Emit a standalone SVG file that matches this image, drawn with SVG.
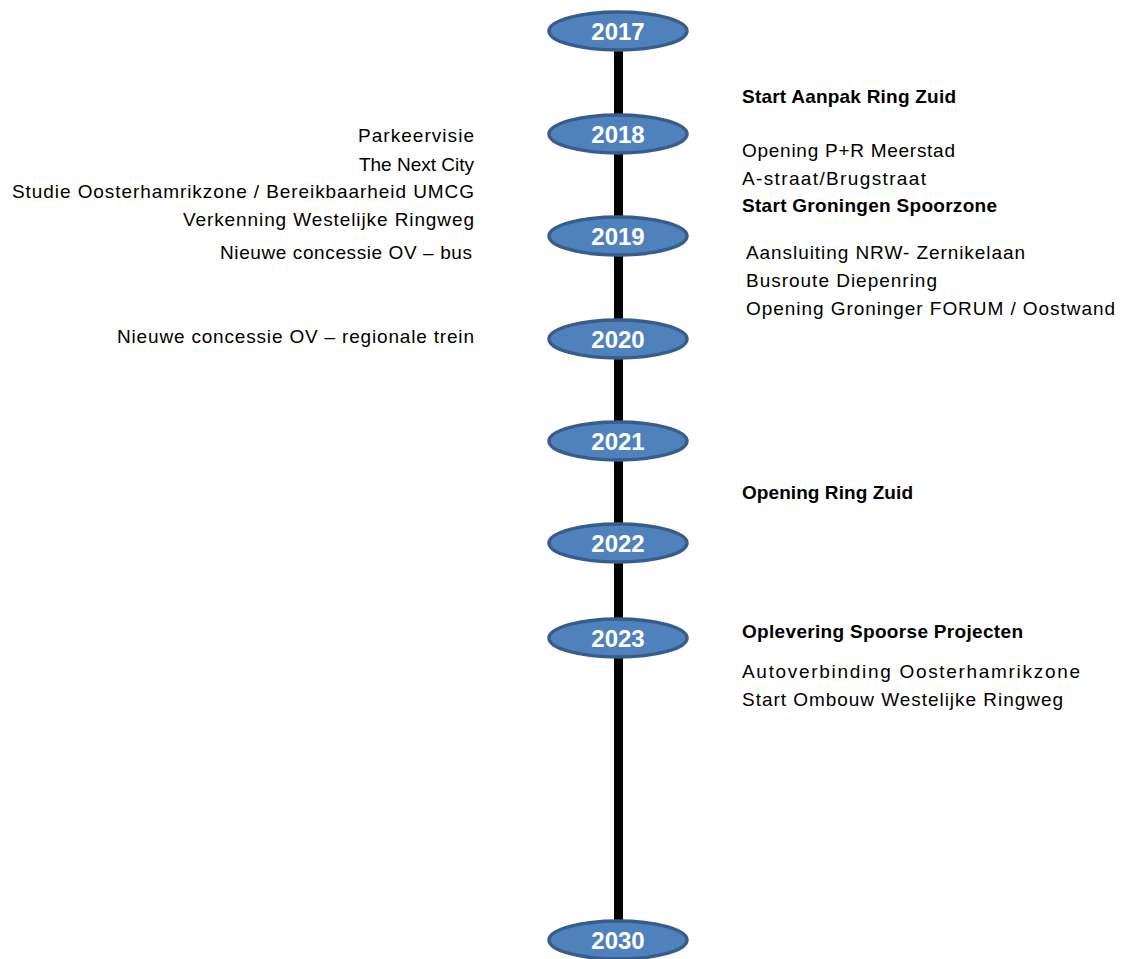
<svg xmlns="http://www.w3.org/2000/svg" width="1122" height="959" viewBox="0 0 1122 959">
<style>
.yr ellipse{fill:#4f81bd;stroke:#385d8a;stroke-width:3.5}
.yr text{font-family:"Liberation Sans",Arial,sans-serif;font-weight:bold;font-size:24px;fill:#fff;text-anchor:middle}
.t{font-family:"Liberation Sans",Arial,sans-serif;font-size:19px;fill:#000}
.l{text-anchor:end}
.b{font-weight:bold}
</style>
<rect width="1122" height="959" fill="#fff"/>
<g id="connectors">
<line x1="618.5" y1="31" x2="618.5" y2="940" stroke="#000" stroke-width="9"/>
</g>
<g id="y2017" class="yr"><ellipse cx="618" cy="31" rx="69" ry="19"/><text x="618" y="39.5">2017</text></g>
<g id="y2018" class="yr"><ellipse cx="618" cy="134" rx="69" ry="19"/><text x="618" y="142.5">2018</text></g>
<g id="y2019" class="yr"><ellipse cx="618" cy="236" rx="69" ry="19"/><text x="618" y="244.5">2019</text></g>
<g id="y2020" class="yr"><ellipse cx="618" cy="339" rx="69" ry="19"/><text x="618" y="347.5">2020</text></g>
<g id="y2021" class="yr"><ellipse cx="618" cy="441" rx="69" ry="19"/><text x="618" y="449.5">2021</text></g>
<g id="y2022" class="yr"><ellipse cx="618" cy="543" rx="69" ry="19"/><text x="618" y="551.5">2022</text></g>
<g id="y2023" class="yr"><ellipse cx="618" cy="638" rx="69" ry="19"/><text x="618" y="646.5">2023</text></g>
<g id="y2030" class="yr"><ellipse cx="618" cy="940" rx="69" ry="19"/><text x="618" y="948.5">2030</text></g>
<g id="left-labels">
<text class="t l" x="474" y="142" textLength="116">Parkeervisie</text>
<text class="t l" x="474" y="171">The Next City</text>
<text class="t l" x="474" y="198" textLength="462">Studie Oosterhamrikzone / Bereikbaarheid UMCG</text>
<text class="t l" x="474" y="226" textLength="291">Verkenning Westelijke Ringweg</text>
<text class="t l" x="472" y="259" textLength="252">Nieuwe concessie OV – bus</text>
<text class="t l" x="474" y="343" textLength="357">Nieuwe concessie OV – regionale trein</text>
</g>
<g id="right-labels">
<text class="t b" x="742" y="103" textLength="214">Start Aanpak Ring Zuid</text>
<text class="t" x="742" y="157" textLength="213">Opening P+R Meerstad</text>
<text class="t" x="742" y="185" textLength="184">A-straat/Brugstraat</text>
<text class="t b" x="742" y="212" textLength="255">Start Groningen Spoorzone</text>
<text class="t" x="746" y="259" textLength="279">Aansluiting NRW- Zernikelaan</text>
<text class="t" x="746" y="287" textLength="191">Busroute Diepenring</text>
<text class="t" x="746" y="315" textLength="369">Opening Groninger FORUM / Oostwand</text>
<text class="t b" x="742" y="499" textLength="171">Opening Ring Zuid</text>
<text class="t b" x="742" y="638" textLength="281">Oplevering Spoorse Projecten</text>
<text class="t" x="742" y="678" textLength="338">Autoverbinding Oosterhamrikzone</text>
<text class="t" x="742" y="706" textLength="321">Start Ombouw Westelijke Ringweg</text>
</g>
</svg>
